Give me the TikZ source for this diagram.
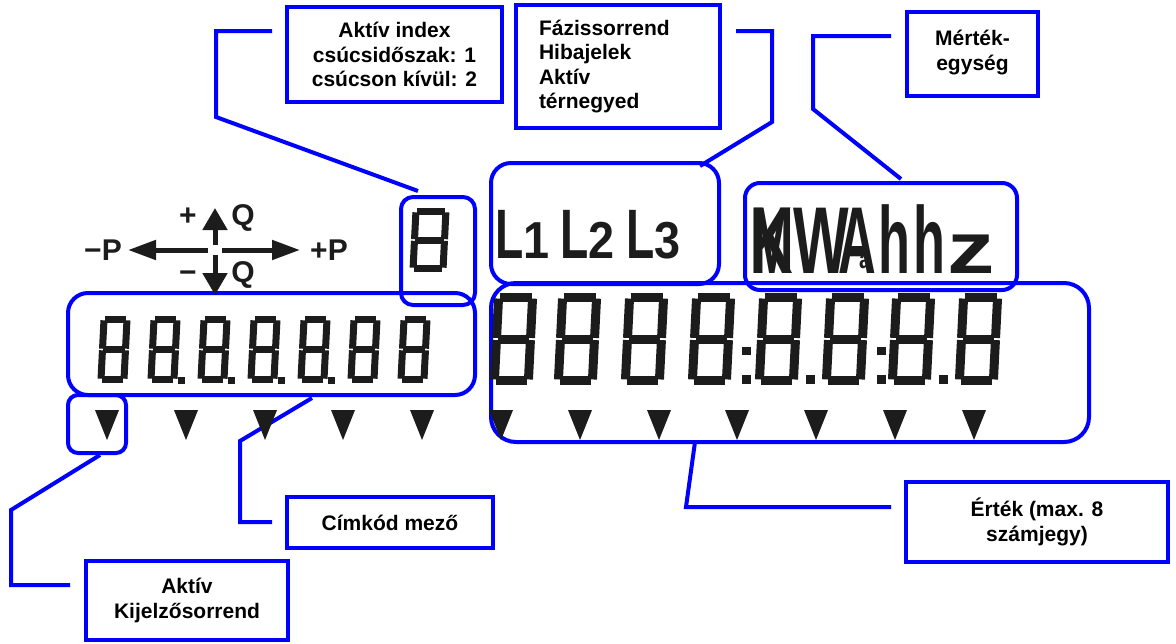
\documentclass[tikz,border=0pt]{standalone}
\usepackage{fontspec}
\setmainfont{Liberation Sans}
\usetikzlibrary{arrows.meta}
\definecolor{callblue}{RGB}{0,0,255}
\definecolor{lcdink}{RGB}{28,28,28}
\newcommand{\segeight}[5]{%
  \begin{scope}[shift={(#1,{#2+#4/2})}, xslant=0.05, line width=#5pt, draw=lcdink]
    \pgfmathsetmacro\xa{#5/2}
    \pgfmathsetmacro\xb{#3-#5/2}
    \pgfmathsetmacro\ya{-#4/2+#5/2}
    \pgfmathsetmacro\yb{#4/2-#5/2}
    \pgfmathsetmacro\sg{0.12*#5}
    \draw ({\xa+\sg},\ya) -- ({\xb-\sg},\ya);
    \draw ({\xa+\sg},0) -- ({\xb-\sg},0);
    \draw ({\xa+\sg},\yb) -- ({\xb-\sg},\yb);
    \draw (\xa,{\ya+\sg}) -- (\xa,-\sg);
    \draw (\xa,\sg) -- (\xa,{\yb-\sg});
    \draw (\xb,{\ya+\sg}) -- (\xb,-\sg);
    \draw (\xb,\sg) -- (\xb,{\yb-\sg});
  \end{scope}}
\newcommand{\lcdch}[3]{\scalebox{#1}[1]{\fontsize{#2}{#2}\selectfont\bfseries #3}}
\tikzset{
  callout/.style={draw=callblue, line width=4pt, inner sep=0pt, align=center,
    font=\fontsize{21}{24.5}\selectfont\bfseries},
  hlbox/.style={draw=callblue, line width=4pt, rounded corners=#1, inner sep=0pt},
  leader/.style={callblue, line width=4pt},
  lcdtxt/.style={inner sep=0pt, text=lcdink, anchor=base west},
  pqtxt/.style={inner sep=0pt, text=lcdink, font=\fontsize{30}{30}\selectfont\bfseries},
  pqh/.style={-{Triangle[length=28pt,width=19pt]}, line width=5pt, lcdink},
  pqv/.style={-{Triangle[length=22pt,width=24pt]}, line width=5pt, lcdink},
  tri/.style={fill=lcdink}
}
\begin{document}
\begin{tikzpicture}[x=1pt, y=-1pt]
		\useasboundingbox (0,0) rectangle (1176,643);
		\node[callout, minimum width=215pt, minimum height=95pt] (idx) at (394.5,54.5) {Aktív index\\csúcsidőszak: 1\\csúcson kívül: 2};
		\node[callout, minimum width=204pt, minimum height=123pt, text width=158pt, align=left] (fazis) at (618,66.5) {Fázissorrend\\Hibajelek\\Aktív\\térnegyed};
		\node[callout, minimum width=131pt, minimum height=84pt] (unit) at (972.5,54) {Mérték-\\egység\\[-17pt]\mbox{}};
		\node[callout, minimum width=206pt, minimum height=51pt] (cim) at (390,522.5) {Címkód mező};
		\node[callout, minimum width=202pt, minimum height=79pt] (kij) at (187,600.5) {Aktív\\Kijelzősorrend};
		\node[callout, minimum width=262pt, minimum height=80pt] (ert) at (1037,522) {Érték (max. 8\\számjegy)};
		\node[hlbox=12pt, minimum width=74pt, minimum height=108pt] (digbox) at (438,251) {};
		\node[hlbox=20pt, minimum width=407pt, minimum height=102pt] (leftbox) at (271.5,344) {};
		\node[hlbox=10pt, minimum width=58pt, minimum height=58pt] (tribox) at (97,424) {};
		\node[hlbox=20pt, minimum width=228pt, minimum height=121pt] (phbox) at (605,223.5) {};
		\node[hlbox=15pt, minimum width=272pt, minimum height=107pt] (unitbox) at (881,236.5) {};
		\node[hlbox=25pt, minimum width=598pt, minimum height=159pt] (valbox) at (790,362.5) {};
		\coordinate (idxa) at (272,31);
		\coordinate (idxb) at (418,191);
		\coordinate (fazisa) at (736,31);
		\coordinate (fazisb) at (700,166);
		\coordinate (unita) at (891,36);
		\coordinate (unitb) at (901,179);
		\coordinate (cima) at (312,398);
		\coordinate (cimb) at (272,522);
		\coordinate (kija) at (100,455);
		\coordinate (kijb) at (70,585);
		\coordinate (erta) at (695,442);
		\coordinate (ertb) at (891,507);
		\draw[leader] (idxa) -- ++(-56,0) -- ++(0,86) -- (idxb);
		\draw[leader] (fazisa) -- ++(36,0) -- ++(0,91) -- (fazisb);
		\draw[leader] (unita) -- ++(-78,0) -- ++(0,73) -- (unitb);
		\draw[leader] (cima) -- (240,441) -- (240,522) -- (cimb);
		\draw[leader] (kija) -- (11,510) -- (11,585) -- (kijb);
		\draw[leader] (erta) -- (686,507) -- (ertb);
		\coordinate (pq) at (215,250);
		\draw[pqh] ([xshift=-7pt]pq) -- (128,250);
		\draw[pqh] ([xshift=7pt]pq) -- (300,250);
		\draw[pqv] ([yshift=5pt]pq) -- (215,208);
		\draw[pqv] ([yshift=-5pt]pq) -- (215,295);
		\node[pqtxt] (mp) at (103,250) {−P};
		\node[pqtxt] (pp) at (329,250) {+P};
		\node[pqtxt] (pq1) at (188,217) {+};
		\node[pqtxt] (q1) at (243,218) {Q};
		\node[pqtxt] (pq2) at (188,277) {−};
		\node[pqtxt] (q2) at (243,275) {Q};
		\node[lcdtxt] (ph1) at (495,258) {\lcdch{0.66}{70}{L}\lcdch{0.9}{52}{1}};
		\node[lcdtxt] (ph2) at (560,258) {\lcdch{0.66}{70}{L}\lcdch{0.9}{52}{2}};
		\node[lcdtxt] (ph3) at (626,258) {\lcdch{0.66}{70}{L}\lcdch{0.9}{52}{3}};
		\node[lcdtxt] (unittxt) at (750,273) {\rlap{\lcdch{0.62}{95}{K}}\lcdch{0.55}{95}{M}\lcdch{0.62}{95}{W}\hspace{-11pt}\lcdch{0.55}{95}{A}\hspace{-17pt}\raisebox{5pt}{\lcdch{0.8}{26}{a}}\hspace{8pt}\lcdch{0.55}{95}{h}\hspace{3pt}\lcdch{0.55}{95}{h}\hspace{2pt}\lcdch{1.3}{73}{z}};
		\segeight{411}{208}{37}{64}{7}
		\segeight{99}{316}{30}{67}{7}
		\segeight{149}{316}{30}{67}{7}
		\segeight{199}{316}{30}{67}{7}
		\segeight{249}{316}{30}{67}{7}
		\segeight{299}{316}{30}{67}{7}
		\segeight{349}{316}{30}{67}{7}
		\segeight{399}{316}{30}{67}{7}
		\fill[lcdink] (178,377) rectangle (185,384);
		\fill[lcdink] (228,377) rectangle (235,384);
		\fill[lcdink] (278,377) rectangle (285,384);
		\fill[lcdink] (328,377) rectangle (335,384);
		\segeight{492}{293}{43}{92}{9}
		\segeight{556}{293}{43}{92}{9}
		\segeight{623}{293}{43}{92}{9}
		\segeight{690}{293}{43}{92}{9}
		\segeight{757}{293}{43}{92}{9}
		\segeight{824}{293}{43}{92}{9}
		\segeight{890}{293}{43}{92}{9}
		\segeight{957}{293}{43}{92}{9}
		\fill[lcdink] (742,347) rectangle (751,355);
		\fill[lcdink] (742,375) rectangle (751,384);
		\fill[lcdink] (806,375) rectangle (815,384);
		\fill[lcdink] (877,347) rectangle (886,355);
		\fill[lcdink] (877,375) rectangle (886,384);
		\fill[lcdink] (939,375) rectangle (948,384);
		\fill[tri] (95,410) -- (119,410) -- (107,440) -- cycle;
		\fill[tri] (174,410) -- (198,410) -- (186,440) -- cycle;
		\fill[tri] (253,410) -- (277,410) -- (265,440) -- cycle;
		\fill[tri] (331,410) -- (355,410) -- (343,440) -- cycle;
		\fill[tri] (410,410) -- (434,410) -- (422,440) -- cycle;
		\fill[tri] (489,410) -- (513,410) -- (501,440) -- cycle;
		\fill[tri] (568,410) -- (592,410) -- (580,440) -- cycle;
		\fill[tri] (647,410) -- (671,410) -- (659,440) -- cycle;
		\fill[tri] (725,410) -- (749,410) -- (737,440) -- cycle;
		\fill[tri] (804,410) -- (828,410) -- (816,440) -- cycle;
		\fill[tri] (883,410) -- (907,410) -- (895,440) -- cycle;
		\fill[tri] (962,410) -- (986,410) -- (974,440) -- cycle;
\end{tikzpicture}
\end{document}
